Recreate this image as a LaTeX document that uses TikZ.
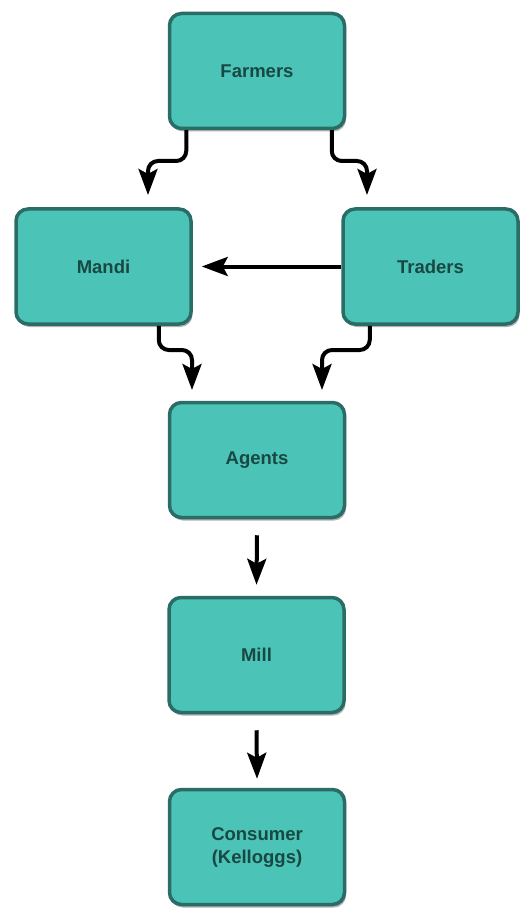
\documentclass[tikz,border=0pt]{standalone}
\usepackage{fontspec}
\setmainfont{Liberation Sans}
\usetikzlibrary{arrows.meta,shadows}
\definecolor{boxfill}{HTML}{4CC3B7}
\definecolor{boxdraw}{HTML}{2A6C66}
\definecolor{boxtext}{HTML}{184843}
\tikzset{
  stagebox/.style={rectangle, rounded corners=12pt, draw=boxdraw, line width=3.5pt,
    fill=boxfill, minimum width=175pt, minimum height=115pt, align=center,
    text=boxtext, font=\fontsize{18.5}{23}\selectfont\bfseries,
    drop shadow={shadow xshift=1.5pt, shadow yshift=-3pt, opacity=0.3, fill=black}},
  conn/.style={line width=4pt, draw=black,
    -{Stealth[length=26pt, width=19pt, inset=5pt]}},
  elbowconn/.style={conn, rounded corners=10pt}
}
\begin{document}
\begin{tikzpicture}[x=1pt, y=-1pt]
\useasboundingbox (0,0) rectangle (521,909);
\node[stagebox] (farmers) at (257,71) {Farmers};
\node[stagebox] (mandi) at (103.5,266.5) {Mandi};
\node[stagebox] (traders) at (430.5,266.5) {Traders};
\node[stagebox] (agents) at (257,460) {Agents};
\node[stagebox] (mill) at (256.5,655) {Mill};
\node[stagebox] (consumer) at (257,847) {Consumer\\(Kelloggs)};

\coordinate (fmtip) at (148,195);
\coordinate (fttip) at (367,195);
\coordinate (matip) at (192,390);
\coordinate (tatip) at (322,390);

\draw[elbowconn] ([xshift=18.5pt]farmers.south west) |- ([yshift=34pt]fmtip) -- (fmtip);
\draw[elbowconn] ([xshift=-14.5pt]farmers.south east) |- ([yshift=34pt]fttip) -- (fttip);
\draw[elbowconn] ([xshift=-34pt]mandi.south east) |- ([yshift=40pt]matip) -- (matip);
\draw[elbowconn] ([xshift=28.5pt]traders.south west) |- ([yshift=40pt]tatip) -- (tatip);
\draw[conn] (traders.west) -- ([xshift=9pt]mandi.east);
\draw[conn] ([yshift=-16pt]agents.south) -- ([yshift=11pt]mill.north);
\draw[conn] ([yshift=-16pt]mill.south) -- ([yshift=9pt]consumer.north);
\end{tikzpicture}
\end{document}
